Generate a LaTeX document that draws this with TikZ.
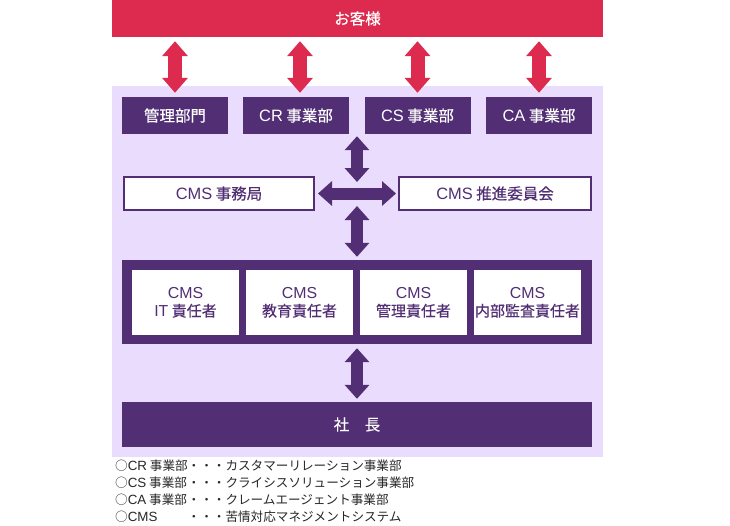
\documentclass[tikz,border=0pt]{standalone}
\usepackage{fontspec}
\setmainfont{Noto Sans CJK JP}[FakeBold=0.35]
\newfontfamily\plainjp{Noto Sans CJK JP}
\newfontfamily\latin{Liberation Sans}[Scale=1.06]
\usetikzlibrary{arrows.meta,positioning}
\definecolor{cmsred}{HTML}{DD2A4F}
\definecolor{cmspurple}{HTML}{522F74}
\definecolor{cmsbg}{HTML}{EADCFC}
\begin{document}
\begin{tikzpicture}[x=1pt,y=-1pt,
band/.style={inner sep=0pt,minimum width=470pt,text=white,font=\fontsize{15.5}{18}\selectfont},
dept/.style={fill=cmspurple,text=white,inner sep=0pt,minimum width=106pt,minimum height=37pt,font=\fontsize{15.5}{18}\selectfont},
office/.style={draw=cmspurple,line width=2pt,fill=white,text=cmspurple,inner sep=0pt,minimum height=33pt,font=\fontsize{15.5}{18}\selectfont},
mgr/.style={fill=white,text=cmspurple,align=center,inner sep=0pt,minimum width=107pt,minimum height=65pt,font=\fontsize{15}{18}\selectfont},
redarr/.style={draw=cmsred,line width=14pt,{Triangle[length=15pt,width=25pt]}-{Triangle[length=15pt,width=25pt]}},
parr/.style={draw=cmspurple,line width=12pt,{Triangle[length=14pt,width=24pt]}-{Triangle[length=14pt,width=24pt]}}]
\useasboundingbox (0,0) rectangle (730,525);
\fill[cmsbg] (112,86) rectangle (603,457);
\node[band,fill=cmsred,minimum width=491pt,minimum height=37pt] at (357.5,18.5)(client){お客様};
\node[dept] at (175,115.5)(admin){管理部門};
\node[dept] at (296,115.5)(cr){{\latin CR} 事業部};
\node[dept] at (417.5,115.5)(cs){{\latin CS} 事業部};
\node[dept] at (539,115.5)(ca){{\latin CA} 事業部};
\draw[redarr,shorten <=4pt,shorten >=4pt](admin.north |- client.south)--(admin.north);
\draw[redarr,shorten <=4pt,shorten >=4pt]([xshift=4pt]cr.north |- client.south)--([xshift=4pt]cr.north);
\draw[redarr,shorten <=4pt,shorten >=4pt](cs.north |- client.south)--(cs.north);
\draw[redarr,shorten <=4pt,shorten >=4pt](ca.north |- client.south)--(ca.north);
\coordinate (hub) at (357,194);
\node[office,minimum width=190pt] at (219,193.5)(secretariat){{\latin CMS} 事務局};
\node[office,minimum width=192pt] at (495,193.5)(committee){{\latin CMS} 推進委員会};
\node[band,fill=cmspurple,minimum height=84pt] at (357,302)(staff){};
\node[mgr] at (185.5,302.5)(itmgr){{\latin CMS}\\{\latin IT} 責任者};
\node[mgr] at (299.5,302.5)(edumgr){{\latin CMS}\\教育責任者};
\node[mgr] at (413.5,302.5)(opsmgr){{\latin CMS}\\管理責任者};
\node[mgr] at (527.5,302.5)(auditmgr){{\latin CMS}\\内部監査責任者};
\node[band,fill=cmspurple,minimum height=45pt] at (357,424.5)(president){社　長};
\draw[parr,shorten <=12pt,shorten >=2pt](hub)--(hub |- cr.south);
\draw[parr,shorten <=3pt,shorten >=2pt](secretariat.east)--(committee.west);
\draw[parr,shorten <=12pt,shorten >=3pt](hub)--(staff.north);
\draw[parr,shorten <=4pt,shorten >=3pt](staff.south)--(president.north);
\node[anchor=west,inner sep=0pt,text=black!85,font=\plainjp\fontsize{12.6}{17.3}\selectfont] at (115,492.5)(legend){\begin{tabular}{@{}l@{}l@{}}
○{\latin CR} 事業部&・・・カスタマーリレーション事業部\\
○{\latin CS} 事業部&・・・クライシスソリューション事業部\\
○{\latin CA} 事業部&・・・クレームエージェント事業部\\
○{\latin CMS}&・・・苦情対応マネジメントシステム
\end{tabular}};
\end{tikzpicture}
\end{document}
